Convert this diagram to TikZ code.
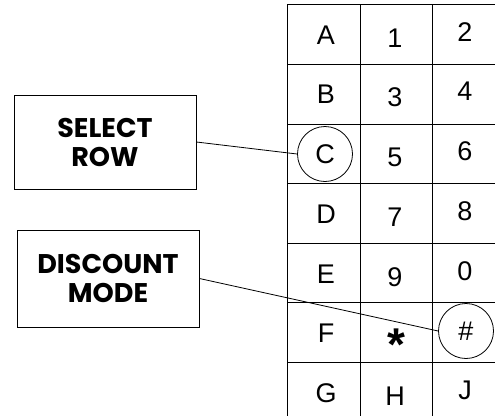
\documentclass[tikz,border=0pt]{standalone}
\usepackage{fontspec}
\setmainfont{Liberation Sans}
\newfontfamily\labfont{Poppins}
\tikzset{
  gridline/.style={line width=0.9pt, black},
  cell/.style={inner sep=0pt, font=\fontsize{27}{30}\selectfont},
  ring/.style={draw, circle, line width=0.8pt, minimum size=55pt, inner sep=0pt, font=\fontsize{27}{30}\selectfont},
  labelbox/.style={draw, line width=0.9pt, inner sep=0pt, align=center, font=\labfont\bfseries\fontsize{27}{29}\selectfont},
  leader/.style={line width=0.8pt, black},
}
\begin{document}
\begin{tikzpicture}[x=1pt, y=-1pt]
\useasboundingbox (0,0) rectangle (495,416);
% grid
\draw[gridline] (287,4) -- (495,4);
\foreach \yy in {64,124,183,243,302,362} { \draw[gridline] (287,\yy) -- (495,\yy); }
\foreach \xx in {287,360,432} { \draw[gridline] (\xx,4) -- (\xx,416); }
% cell labels
\foreach \t [count=\i from 0] in {A,B,,D,E,F,G} {
  \pgfmathsetmacro{\cy}{34+59.7*\i+1}
  \node[cell] (a\i) at (326,\cy) {\t};
}
\foreach \t [count=\i from 0] in {1,3,5,7,9,,H} {
  \pgfmathsetmacro{\cy}{34+59.7*\i+4}
  \node[cell] (b\i) at (395,\cy) {\t};
}
\foreach \t [count=\i from 0] in {2,4,6,8,0,,J} {
  \pgfmathsetmacro{\cy}{34+59.7*\i-2}
  \node[cell] (c\i) at (465,\cy) {\t};
}
\node[cell, font=\bfseries\fontsize{46}{46}\selectfont] (star) at (396,345) {*};
% circled keys
\node[ring] (cc) at (325,154) {C};
\node[ring] (hc) at (466,331) {\#};
% label boxes
\node[labelbox, minimum width=182pt, minimum height=94pt] (sel) at (105,142) {SELECT\\ROW};
\node[labelbox, minimum width=182pt, minimum height=97pt] (dm) at (108,278.5) {DISCOUNT\\MODE};
% leaders
\draw[leader] (sel.east) -- (cc.west);
\draw[leader] (dm.east) -- (hc.west);
\end{tikzpicture}
\end{document}
